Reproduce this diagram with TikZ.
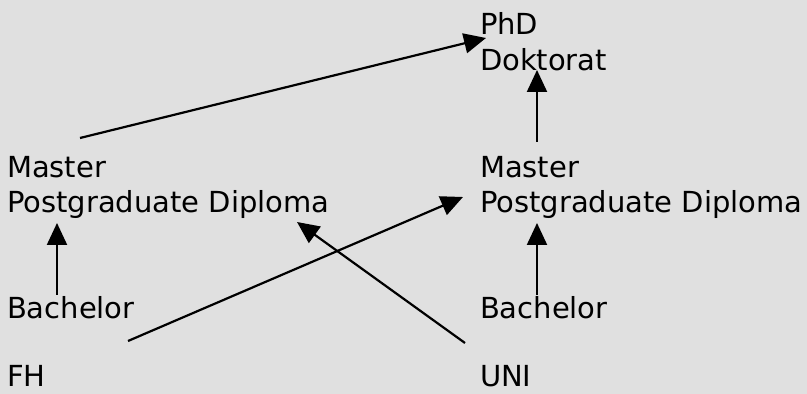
\documentclass[tikz,border=0pt]{standalone}
\usepackage{fontspec}
\setmainfont{DejaVu Sans}
\usetikzlibrary{arrows.meta}
\definecolor{bggray}{RGB}{224,224,224}
\begin{document}
\begin{tikzpicture}[x=1pt,y=1pt,
  lbl/.style={anchor=base west,inner sep=0pt,outer sep=0pt,font=\fontsize{29}{35}\selectfont},
  arr/.style={line width=2.2pt,-{Triangle[length=22pt,width=20pt]}}]
\fill[bggray] (0,0) rectangle (807,394);
\useasboundingbox (0,0) rectangle (807,394);
% left column
\node[lbl] (mastL) at (7,216) {Master};
\node[lbl] (pgL)   at (7,181) {Postgraduate Diploma};
\node[lbl] (bachL) at (7,75)  {Bachelor};
\node[lbl] (fh)    at (7,7)   {FH};
% right column
\node[lbl] (phd)   at (480,359) {PhD};
\node[lbl] (dok)   at (480,323) {Doktorat};
\node[lbl] (mastR) at (480,216) {Master};
\node[lbl] (pgR)   at (480,181) {Postgraduate Diploma};
\node[lbl] (bachR) at (480,75)  {Bachelor};
\node[lbl] (uni)   at (480,7)   {UNI};
% connectors
\draw[arr] ([shift={(73,40)}]mastL.base west) -- ([shift={(6,-3)}]phd.base west);
\draw[arr] ([shift={(57,36)}]mastR.base west) -- ([shift={(57,1)}]dok.base west);
\draw[arr] ([shift={(50,24)}]bachL.base west) -- ([shift={(50,-10)}]pgL.base west);
\draw[arr] ([shift={(57,24)}]bachR.base west) -- ([shift={(57,-10)}]pgR.base west);
\draw[arr] ([shift={(121,46)}]fh.base west) -- ([shift={(-17,16)}]pgR.base west);
\draw[arr] ([shift={(-15,44)}]uni.base west) -- ([shift={(290,-9)}]pgL.base west);
\end{tikzpicture}
\end{document}
